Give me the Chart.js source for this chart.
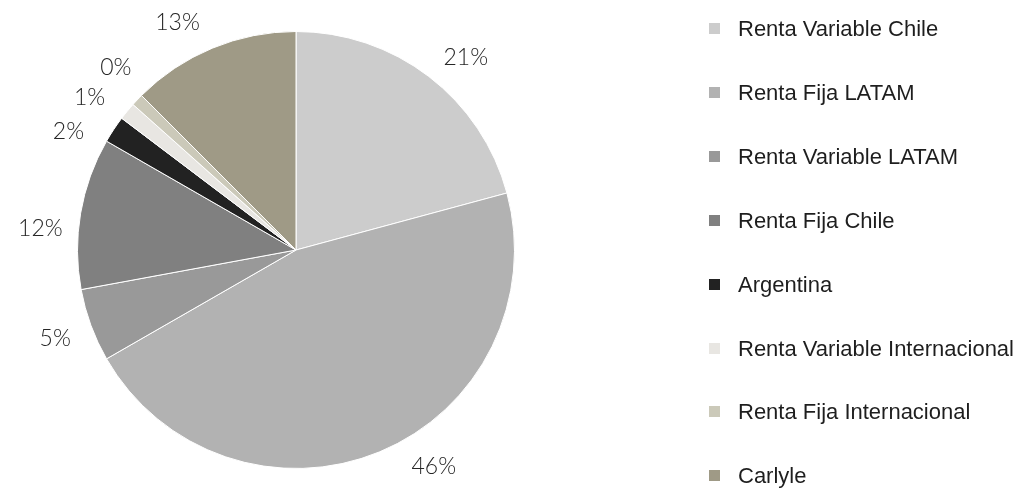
<!DOCTYPE html>
<html>
<head>
<meta charset="utf-8">
<script src="https://cdn.jsdelivr.net/npm/chart.js@4"></script>
<style>
  html, body { margin: 0; padding: 0; background: #fff; }
  #wrap { position: relative; width: 1024px; height: 488px; }
  #legend {
    position: absolute; left: 709px; top: 0; margin: 0; padding: 0; list-style: none;
    font-family: "Liberation Sans Narrow", "Arial Narrow", "Liberation Sans", sans-serif; font-size: 22px; color: #1e1e1e;
  }
  #legend li { position: absolute; left: 0; white-space: nowrap; height: 30px; line-height: 30px; }
  #legend span.box { position: absolute; left: 0; top: 9px; width: 11px; height: 11px; }
  #legend span.txt { position: absolute; left: 29px; top: 0; }
</style>
</head>
<body>
<div id="wrap">
  <canvas id="pieChart" width="1024" height="488"></canvas>
  <ul id="legend"></ul>
</div>
<script>
// Categories and values
const categories = [
  'Renta Variable Chile',
  'Renta Fija LATAM',
  'Renta Variable LATAM',
  'Renta Fija Chile',
  'Argentina',
  'Renta Variable Internacional',
  'Renta Fija Internacional',
  'Carlyle'
];
const shares = [20.8, 45.9, 5.4, 11.2, 2.0, 1.3, 0.9, 12.5];
const shareLabels = ['21%', '46%', '5%', '12%', '2%', '1%', '0%', '13%'];
const sliceColors = ['#cccccc', '#b2b2b2', '#999999', '#808080', '#222222', '#e8e6e2', '#cbc9b9', '#9f9a86'];

// Label layout tweaks (degrees), like the spreadsheet's "best fit" placement
const labelAngleShift = [4, -10, 0, -5, -6, -3, 2, -5];

// Percent labels drawn just outside each slice
const outsideLabels = {
  id: 'outsideLabels',
  afterDatasetsDraw(chart) {
    const ctx = chart.ctx;
    const meta = chart.getDatasetMeta(0);
    ctx.save();
    ctx.font = '300 23px Lato, "Open Sans", sans-serif';
    ctx.fillStyle = '#262626';
    ctx.textAlign = 'center';
    ctx.textBaseline = 'middle';
    meta.data.forEach((arc, i) => {
      const mid = (arc.startAngle + arc.endAngle) / 2 + labelAngleShift[i] * Math.PI / 180;
      const r = arc.outerRadius + 38;
      ctx.fillText(shareLabels[i], arc.x + Math.cos(mid) * r, arc.y + Math.sin(mid) * r);
    });
    ctx.restore();
  }
};

const pieChart = new Chart(document.getElementById('pieChart').getContext('2d'), {
  type: 'pie',
  data: {
    labels: categories,
    datasets: [{
      data: shares,
      backgroundColor: sliceColors,
      borderColor: '#ffffff',
      borderWidth: 1
    }]
  },
  options: {
    responsive: false,
    animation: false,
    layout: { padding: { left: 77, top: 31, right: 509, bottom: 19 } },
    plugins: {
      legend: { display: false },
      tooltip: { enabled: false }
    }
  },
  plugins: [outsideLabels]
});

// Legend on the right
const legend = document.getElementById('legend');
categories.forEach((name, i) => {
  const li = document.createElement('li');
  li.style.top = (14 + i * 63.9) + 'px';
  li.innerHTML = '<span class="box" style="background:' + sliceColors[i] + '"></span><span class="txt">' + name + '</span>';
  legend.appendChild(li);
});
</script>
</body>
</html>
